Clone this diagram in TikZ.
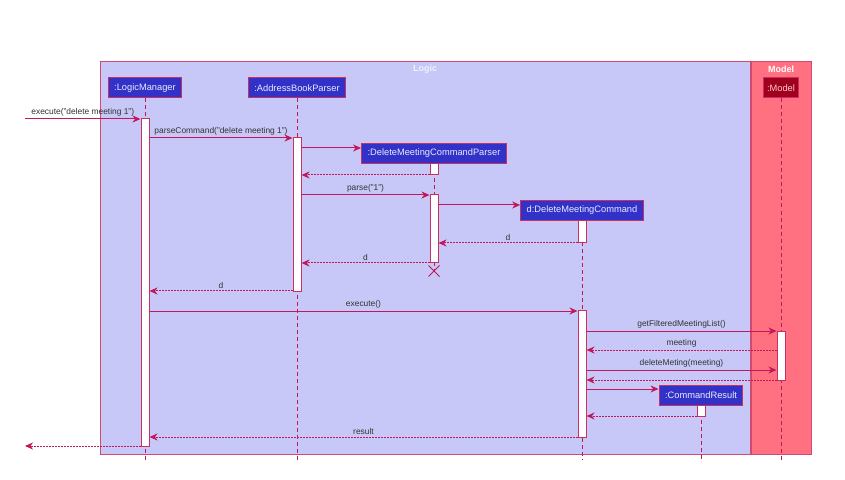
\documentclass[tikz,border=0pt]{standalone}
\usepackage{fontspec}
\setmainfont{Liberation Sans}
\usepackage{tikz}
\usepackage{xcolor}
\usetikzlibrary{arrows.meta,calc,positioning,shapes.misc}

\definecolor{logicbg}{HTML}{C8C8F8}
\definecolor{modelbg}{HTML}{FF7080}
\definecolor{framedraw}{HTML}{D04A72}
\definecolor{partfill}{HTML}{3232C8}
\definecolor{partdraw}{HTML}{C83060}
\definecolor{modelpart}{HTML}{A0001E}
\definecolor{msgcol}{HTML}{C0185A}

\begin{document}
\begin{tikzpicture}[
          x=1bp, y=-1bp,
          frame/.style={draw=framedraw, line width=1bp},
          part/.style={draw=partdraw, fill=partfill, text=blue!8, line width=1bp, minimum height=20bp, inner xsep=6bp, inner ysep=2bp, font=\fontsize{9.3bp}{10bp}\selectfont},
          act/.style={draw=partdraw, fill=white, line width=1bp, minimum width=8bp, inner sep=0pt},
          life/.style={draw=msgcol, line width=0.8bp, dash pattern=on 4bp off 3bp},
          msg/.style={draw=msgcol, line width=1bp, -{Stealth[length=8bp, width=7bp, inset=2.5bp]}},
          ret/.style={msg, dash pattern=on 1.5bp off 1.5bp},
          lbl/.style={above, inner sep=2bp, text=black!80, font=\fontsize{8.4bp}{9bp}\selectfont},
          ttl/.style={font=\fontsize{9bp}{10bp}\selectfont\bfseries}
      ]
        \useasboundingbox (0,0) rectangle (845,480);
        \fill[white] (0,0) rectangle (845,480);

        % boxes
        \draw[frame, fill=logicbg] (100,62) rectangle (750,454);
        \draw[frame, fill=modelbg] (751,62) rectangle (811,454);
        \node[ttl, text=blue!6] (logicT) at (425,69) {Logic};
        \node[ttl, text=white] (modelT) at (781,69) {Model};

        % message rows
        \foreach \n/\y in {1/119, 2/138, 3/148, 4/175, 5/195, 6/205, 7/243, 8/263, 9/291,
                           10/311, 11/331, 12/350, 13/370, 14/380, 15/389, 16/416, 17/437, 18/446}
          \coordinate (r\n) at (0,\y);
        \coordinate (bot) at (0,460);
        \coordinate (start) at (25,119);
        \coordinate (finish) at (25,446);

        % participants
        \node[part] (lm) at (145,88) {:LogicManager};
        \node[part] (abp) at (297,88) {:AddressBookParser};
        \node[part, fill=modelpart, text=red!20, inner xsep=4bp] (mdl) at (781,88) {:Model};
        \node[part] (dmcp) at (434,153.5) {:DeleteMeetingCommandParser};
        \node[part] (dmc) at (582,210.5) {d:DeleteMeetingCommand};
        \node[part] (cr) at (701,395) {:CommandResult};
        \node[cross out, draw=msgcol, line width=1bp, minimum size=10bp, inner sep=0pt] (dmcpX) at (434,271) {};

        % lifelines
        \draw[life] (lm) -- (lm |- bot);
        \draw[life] (abp) -- (abp |- bot);
        \draw[life] (mdl) -- (mdl |- bot);
        \draw[life] (dmcp) -- (dmcpX.center);
        \draw[life] (dmc) -- (dmc |- bot);
        \draw[life] (cr) -- (cr |- bot);

        % activations
        \node[act, minimum height=327bp] (lmAct) at (145,282.5) {};
        \node[act, minimum height=153bp] (abpAct) at (297,214.5) {};
        \node[act, minimum height=11bp] (dmcpAct) at (434,169.5) {};
        \node[act, minimum height=68bp] (dmcpAct2) at (434,229) {};
        \node[act, minimum height=22bp] (dmcAct) at (582,232) {};
        \node[act, minimum height=126bp] (dmcAct2) at (582,374) {};
        \node[act, minimum height=49bp] (mdlAct) at (781,355.5) {};
        \node[act, minimum height=11bp] (crAct) at (701,410.5) {};

        % messages
        \draw[msg] (start) -- (lmAct.west |- r1) node[lbl, midway] {execute("delete meeting 1")};
        \draw[msg] (lmAct.east |- r2) -- (abpAct.west |- r2) node[lbl, midway] {parseCommand("delete meeting 1")};
        \draw[msg] (abpAct.east |- r3) -- (dmcp.west |- r3);
        \draw[ret] (dmcpAct.west |- r4) -- (abpAct.east |- r4);
        \draw[msg] (abpAct.east |- r5) -- (dmcpAct2.west |- r5) node[lbl, midway] {parse("1")};
        \draw[msg] (dmcpAct2.east |- r6) -- (dmc.west |- r6);
        \draw[ret] (dmcAct.west |- r7) -- (dmcpAct2.east |- r7) node[lbl, midway] {d};
        \draw[ret] (dmcpAct2.west |- r8) -- (abpAct.east |- r8) node[lbl, midway] {d};
        \draw[ret] (abpAct.west |- r9) -- (lmAct.east |- r9) node[lbl, midway] {d};
        \draw[msg] (lmAct.east |- r10) -- (dmcAct2.west |- r10) node[lbl, midway] {execute()};
        \draw[msg] (dmcAct2.east |- r11) -- (mdlAct.west |- r11) node[lbl, midway] {getFilteredMeetingList()};
        \draw[ret] (mdlAct.west |- r12) -- (dmcAct2.east |- r12) node[lbl, midway] {meeting};
        \draw[msg] (dmcAct2.east |- r13) -- (mdlAct.west |- r13) node[lbl, midway] {deleteMeting(meeting)};
        \draw[ret] (mdlAct.west |- r14) -- (dmcAct2.east |- r14);
        \draw[msg] (dmcAct2.east |- r15) -- (cr.west |- r15);
        \draw[ret] (crAct.west |- r16) -- (dmcAct2.east |- r16);
        \draw[ret] (dmcAct2.west |- r17) -- (lmAct.east |- r17) node[lbl, midway] {result};
        \draw[ret] (lmAct.west |- r18) -- (finish);
      \end{tikzpicture}
\end{document}
